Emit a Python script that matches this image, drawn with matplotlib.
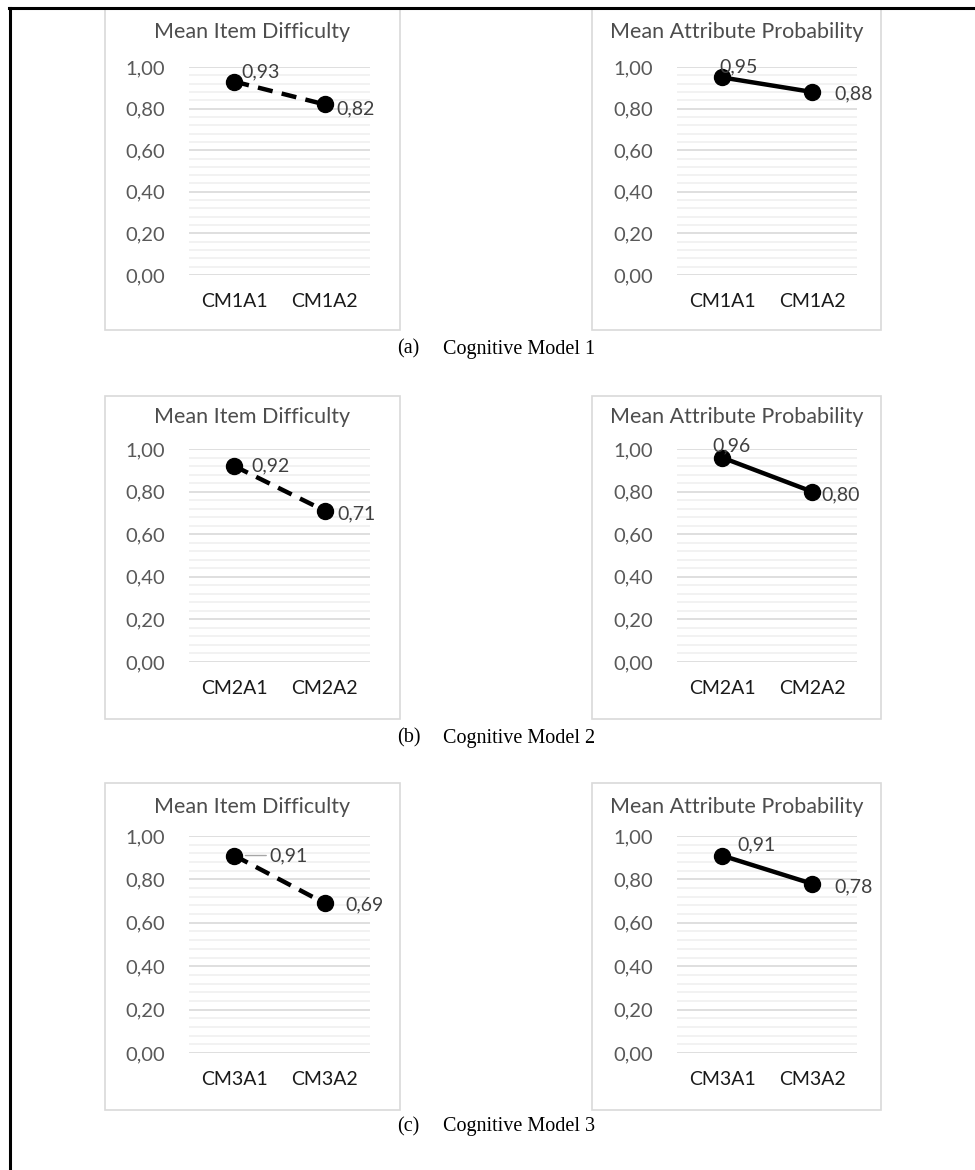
import numpy as np
import matplotlib.pyplot as plt
from matplotlib.patches import Rectangle
from matplotlib.lines import Line2D
from matplotlib.ticker import MultipleLocator, FuncFormatter

# values
models = ['1', '2', '3']
panel_letters = ['(a)', '(b)', '(c)']
categories = [['CM1A1', 'CM1A2'], ['CM2A1', 'CM2A2'], ['CM3A1', 'CM3A2']]
item_difficulty = [[0.93, 0.82], [0.92, 0.71], [0.91, 0.69]]
attr_probability = [[0.95, 0.88], [0.96, 0.80], [0.91, 0.78]]

W, H = 975, 1170
fig = plt.figure(figsize=(W / 100, H / 100), dpi=100)
fig.patch.set_facecolor('white')

CHART_FONT = ['Lato', 'DejaVu Sans']
SERIF = ['Liberation Serif', 'DejaVu Serif']

def fx(px):
    return px / W

def fy(py):
    return 1 - py / H

# pixel layout of each row: box top/bottom, title y, 1.00 line, 0.00 line, caption y
rows = [
    dict(box=(8, 330), title=32, top=67, bottom=275, cap=349),
    dict(box=(396, 719), title=417, top=449, bottom=662, cap=738),
    dict(box=(783, 1110), title=807, top=836, bottom=1053, cap=1127),
]
cols = [
    dict(box=(105, 400), ax=(189, 370), title='Mean Item Difficulty', dash=True),
    dict(box=(592, 881), ax=(677, 857), title='Mean Attribute Probability', dash=False),
]

# label offsets in pixels (dx, dy) for each point, per row/col
offsets = [
    [[(7, 10), (12, -4)], [(-3, 11), (22, -2)]],
    [[(17, 0), (13, -3)], [(-10, 12), (9, -3)]],
    [[(35, 0), (21, -2)], [(15, 11), (22, -3)]],
]

comma = FuncFormatter(lambda v, p: ('%.2f' % v).replace('.', ','))

for r, row in enumerate(rows):
    for c, col in enumerate(cols):
        bx0, bx1 = col['box']
        by0, by1 = row['box']
        fig.patches.append(Rectangle((fx(bx0), fy(by1)), fx(bx1 - bx0), (by1 - by0) / H,
                                     transform=fig.transFigure, fill=False,
                                     edgecolor='#d9d9d9', linewidth=1.2, zorder=0))
        fig.text(fx((bx0 + bx1) / 2), fy(row['title']), col['title'], ha='center', va='center',
                 fontsize=15.5, color='#4d4d4d', family=CHART_FONT)

        ax0, ax1 = col['ax']
        ax = fig.add_axes([fx(ax0), fy(row['bottom']), fx(ax1 - ax0), (row['bottom'] - row['top']) / H])
        vals = item_difficulty[r] if c == 0 else attr_probability[r]
        xs = np.arange(len(vals))
        ax.plot(xs, vals, color='black', linewidth=3.2,
                linestyle=(0, (3.4, 2.1)) if col['dash'] else '-',
                marker='o', markersize=11.5, clip_on=False, zorder=3,
                dash_capstyle='butt')
        for i, v in enumerate(vals):
            dx, dy = offsets[r][c][i]
            ax.annotate(('%.2f' % v).replace('.', ','), (xs[i], v), xytext=(dx, dy),
                        textcoords='offset pixels', ha='left', va='center',
                        fontsize=14, color='#404040', family=CHART_FONT, zorder=4)
            if r == 2 and c == 0 and i == 0:
                ax.annotate('', (xs[i], v), xytext=(dx - 3, 0), textcoords='offset pixels',
                            arrowprops=dict(arrowstyle='-', color='#a6a6a6', lw=1,
                                            shrinkA=0, shrinkB=8))

        ax.set_xlim(-0.5, 1.5)
        ax.set_ylim(0, 1.0)
        ax.yaxis.set_major_locator(MultipleLocator(0.2))
        ax.yaxis.set_minor_locator(MultipleLocator(0.04))
        ax.yaxis.set_major_formatter(comma)
        ax.set_xticks(xs)
        ax.set_xticklabels(categories[r])
        ax.grid(True, which='major', axis='y', color='#d9d9d9', linewidth=1.2)
        ax.grid(True, which='minor', axis='y', color='#f0f0f0', linewidth=1.2)
        ax.set_axisbelow(True)
        for s in ax.spines.values():
            s.set_visible(False)
        ax.tick_params(axis='y', which='both', length=0, pad=17, labelsize=14.5, labelcolor='#595959')
        ax.tick_params(axis='x', length=0, pad=13, labelsize=14, labelcolor='#1a1a1a')
        for t in ax.get_xticklabels() + ax.get_yticklabels():
            t.set_family(CHART_FONT)

    fig.text(fx(397), fy(row['cap']), panel_letters[r], ha='left', va='center',
             fontsize=14.5, family=SERIF, color='black')
    fig.text(fx(443), fy(row['cap']), 'Cognitive Model ' + models[r], ha='left', va='center',
             fontsize=14.5, family=SERIF, color='black')

# outer frame (top and left edges only are visible)
fig.lines.append(Line2D([fx(9), 1], [fy(8), fy(8)], transform=fig.transFigure,
                        color='black', linewidth=2.2))
fig.lines.append(Line2D([fx(10), fx(10)], [fy(8), 0], transform=fig.transFigure,
                        color='black', linewidth=2.2))

fig.savefig('out.png', dpi=100, facecolor='white')
